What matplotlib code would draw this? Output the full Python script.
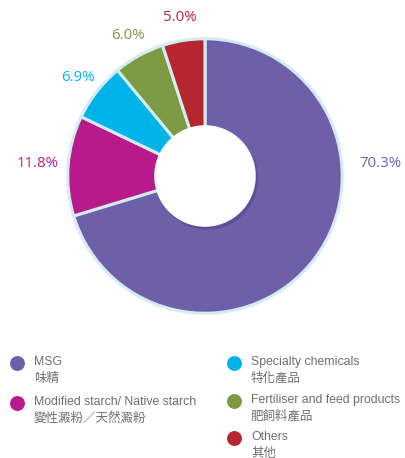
import numpy as np
import matplotlib.pyplot as plt
from matplotlib.patches import Circle

categories_en = ["MSG", "Modified starch/ Native starch", "Specialty chemicals",
                 "Fertiliser and feed products", "Others"]
categories_zh = ["味精", "變性澱粉／天然澱粉", "特化產品", "肥飼料產品", "其他"]
shares = [70.3, 11.8, 6.9, 6.0, 5.0]
colors = ["#6e5fa9", "#b8198b", "#00b4ea", "#7b9a41", "#b5262f"]

fig = plt.figure(figsize=(4.05, 4.58), dpi=100)

# legend layer in pixel coordinates
lax = fig.add_axes([0, 0, 1, 1])
lax.set_xlim(0, 405)
lax.set_ylim(458, 0)
lax.axis("off")

# pie
ax = fig.add_axes([65 / 405, 1 - 316 / 458, 280 / 405, 280 / 458])
wedges, _ = ax.pie(
    shares,
    colors=colors,
    startangle=90,
    counterclock=False,
    radius=1,
    wedgeprops=dict(edgecolor="#d3ebf1", linewidth=2.2),
)
ax.set_aspect("equal")
ax.set_xlim(-1.02, 1.02)
ax.set_ylim(-1.02, 1.02)

# inner hole with a soft shadow
ax.add_patch(Circle((0.015, -0.02), 0.372, color="#3a3060", alpha=0.3, lw=0, zorder=5))
ax.add_patch(Circle((0, 0), 0.37, color="white", lw=0, zorder=6))

# percentage labels
for i, (w, val) in enumerate(zip(wedges, shares)):
    if i == 0:
        ang, r = 4.0, 1.28
    else:
        ang = (w.theta1 + w.theta2) / 2
        r = 1.17 if i > 1 else 1.22
    x = r * np.cos(np.radians(ang))
    y = r * np.sin(np.radians(ang))
    ax.text(x, y, f"{val:.1f}%", color=colors[i], fontsize=10.8,
            family=["Open Sans", "DejaVu Sans"], ha="center", va="center",
            clip_on=False)

# legend
legend_pos = [(17, 363), (17, 403), (234, 363), (234, 401), (234, 438)]
for (x, y), en, zh, c in zip(legend_pos, categories_en, categories_zh, colors):
    lax.scatter([x], [y], s=115, color=c, lw=0)
    lax.text(x + 17, y - 1, en, fontsize=8.8, color="#6d6e71",
             family=["Liberation Sans", "DejaVu Sans"], ha="left", va="center")
    lax.text(x + 17, y + 15, zh, fontsize=9, color="#6d6e71",
             family=["Noto Sans CJK TC", "DejaVu Sans"], ha="left", va="center")

fig.savefig("out.png", dpi=100)
